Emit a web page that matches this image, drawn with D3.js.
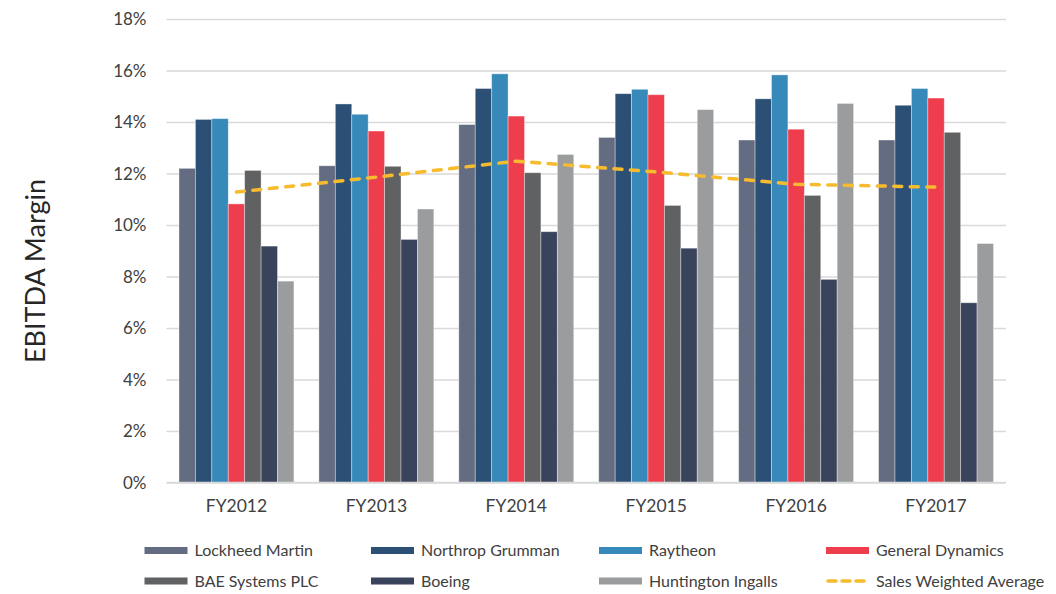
<!DOCTYPE html>
<html>
<head>
<meta charset="utf-8">
<script src="https://cdn.jsdelivr.net/npm/d3@7"></script>
<style>
  html, body { margin: 0; padding: 0; background: #fff; }
  svg { display: block; }
  text { font-family: Lato, "Open Sans", sans-serif; fill: #404040; }
</style>
</head>
<body>
<svg id="chart" width="1056" height="594"></svg>
<script>
const categories = ["FY2012", "FY2013", "FY2014", "FY2015", "FY2016", "FY2017"];
const seriesNames = ["Lockheed Martin", "Northrop Grumman", "Raytheon", "General Dynamics", "BAE Systems PLC", "Boeing", "Huntington Ingalls"];
const lockheed   = [12.2, 12.3, 13.9, 13.4, 13.3, 13.3];
const northrop   = [14.1, 14.7, 15.3, 15.1, 14.9, 14.65];
const raytheon   = [14.13, 14.3, 15.87, 15.27, 15.83, 15.3];
const genDyn     = [10.82, 13.65, 14.23, 15.06, 13.72, 14.93];
const bae        = [12.12, 12.28, 12.03, 10.76, 11.15, 13.6];
const boeing     = [9.18, 9.44, 9.74, 9.1, 7.89, 6.98];
const huntington = [7.82, 10.62, 12.74, 14.48, 14.72, 9.28];
const weightedAvg = [11.28, 11.86, 12.48, 12.06, 11.58, 11.47];
const avgName = "Sales Weighted Average";
const yTicks = [0, 2, 4, 6, 8, 10, 12, 14, 16, 18];
const yTitle = "EBITDA Margin";

const seriesValues = [lockheed, northrop, raytheon, genDyn, bae, boeing, huntington];
const colors = ["#646c82", "#2b4f75", "#3789b9", "#ee3e4d", "#606163", "#3a435c", "#9b9c9e"];
const avgColor = "#f6bb2e";

const svg = d3.select("#chart");
const pLeft = 166.5, pRight = 1006, pTop = 19, pBottom = 482.5;

const x0 = d3.scaleBand().domain(categories).range([pLeft, pRight]).paddingInner(25/140).paddingOuter(12.5/140);
const x1 = d3.scaleBand().domain(seriesNames).range([0, x0.bandwidth()]);
const xc = d3.scaleBand().domain(categories).range([pLeft, pRight]);
const y = d3.scaleLinear().domain([0, 18]).range([pBottom, pTop]);

// gridlines
const yAxis = d3.axisLeft(y).tickValues(yTicks).tickSize(-(pRight - pLeft)).tickFormat(d => d + "%");
const gy = svg.append("g").attr("transform", `translate(${pLeft},0)`).call(yAxis);
gy.select(".domain").remove();
gy.selectAll(".tick line").attr("stroke", "#d9d9d9").attr("stroke-width", 1.3);
gy.selectAll(".tick text").attr("x", -20).attr("dy", "0.35em")
  .style("font-size", "17px").style("fill", "#404040");

// bars
const groups = svg.append("g").selectAll("g").data(categories).join("g")
  .attr("transform", d => `translate(${x0(d)},0)`);
groups.selectAll("rect")
  .data((c, ci) => seriesNames.map((s, si) => ({ s, si, v: seriesValues[si][ci] })))
  .join("rect")
  .attr("x", d => x1(d.s))
  .attr("y", d => y(d.v))
  .attr("width", x1.bandwidth())
  .attr("height", d => y(0) - y(d.v))
  .attr("fill", d => colors[d.si])
  .attr("stroke", "rgba(255,255,255,0.45)")
  .attr("stroke-width", 0.8);

// baseline
svg.append("line").attr("x1", pLeft).attr("x2", pRight).attr("y1", y(0)).attr("y2", y(0))
  .attr("stroke", "#d9d9d9").attr("stroke-width", 1.5);

// x axis labels
const xAxis = d3.axisBottom(xc).tickSize(0).tickPadding(14);
const gx = svg.append("g").attr("transform", `translate(0,${pBottom})`).call(xAxis);
gx.select(".domain").remove();
gx.selectAll(".tick text").attr("dy", "0.9em").style("font-size", "17.5px").style("fill", "#404040");

// average line
const line = d3.line().x((d, i) => xc(categories[i]) + xc.bandwidth() / 2).y(d => y(d));
svg.append("path").datum(weightedAvg).attr("d", line)
  .attr("fill", "none").attr("stroke", avgColor).attr("stroke-width", 3.5)
  .attr("stroke-dasharray", "8,8.5").attr("stroke-linecap", "round");

// y title
svg.append("text").attr("transform", "translate(45,271) rotate(-90)")
  .attr("text-anchor", "middle").style("font-size", "27px").style("fill", "#262626").text(yTitle);

// legend
const legendItems = seriesNames.map((s, i) => ({ name: s, color: colors[i], type: "bar" }))
  .concat([{ name: avgName, color: avgColor, type: "line" }]);
const colX = [144.5, 371, 599, 826];
const rowY = [550.5, 581];
const lg = svg.append("g").selectAll("g").data(legendItems).join("g")
  .attr("transform", (d, i) => `translate(${colX[i % 4]},${rowY[Math.floor(i / 4)]})`);
lg.filter(d => d.type === "bar").append("rect")
  .attr("x", 0).attr("y", -3.5).attr("width", 43).attr("height", 7).attr("fill", d => d.color);
lg.filter(d => d.type === "line").append("line")
  .attr("x1", 2).attr("x2", 41).attr("y1", 0).attr("y2", 0)
  .attr("stroke", d => d.color).attr("stroke-width", 3.5)
  .attr("stroke-dasharray", "8,6").attr("stroke-linecap", "round");
lg.append("text").attr("x", 50).attr("dy", "0.35em").style("font-size", "16px").style("fill", "#404040")
  .text(d => d.name);
</script>
</body>
</html>
